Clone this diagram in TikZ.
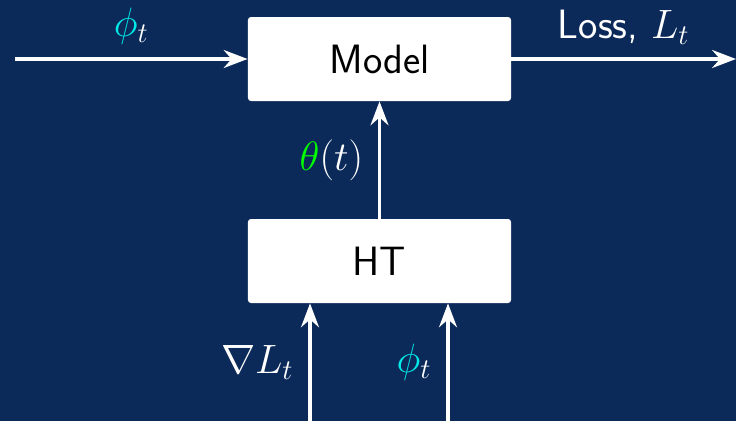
\documentclass[tikz,border=0pt]{standalone}
\usetikzlibrary{arrows.meta}
\definecolor{slidebg}{RGB}{11,42,89}
\definecolor{phicol}{RGB}{0,232,232}
\definecolor{thetacol}{RGB}{0,255,0}
\begin{document}
\begin{tikzpicture}[x=0.506pt,y=-0.506pt,font=\huge\sffamily,
    block/.style={fill=white,text=black,rounded corners=1.5pt,minimum width=133.1pt,minimum height=42.5pt,inner sep=0pt},
    flow/.style={-{Stealth},white,line width=2pt}]
  % slide background
  \fill[slidebg] (0,0) rectangle (736,421);
  \useasboundingbox (0,0) rectangle (736,421);

  % blocks
  \node[block] (model) at (379.5,59) {Model};
  \node[block] (ht) at (379.5,261) {HT};

  % free ends
  \coordinate (in) at (15,59);
  \coordinate (out) at (736,59);
  \coordinate (grad) at (310,421);
  \coordinate (feat) at (448,421);

  % input and output
  \draw[flow] (in) -- (model.west) node[midway,above=3pt] (phitop) {$\textcolor{phicol}{\phi}_t$};
  \draw[flow] (model.east) -- (out) node[midway,above=3pt] (loss) {Loss, $L_t$};

  % parameters
  \draw[flow] (ht) -- (model) node[midway,left=4pt] (theta) {$\textcolor{thetacol}{\theta}(t)$};

  % HT inputs
  \draw[flow] (grad) -- (grad |- ht.south) node[midway,left=4pt] (gradlabel) {$\nabla L_t$};
  \draw[flow] (feat) -- (feat |- ht.south) node[midway,left=4pt] (phibot) {$\textcolor{phicol}{\phi}_t$};
\end{tikzpicture}
\end{document}
